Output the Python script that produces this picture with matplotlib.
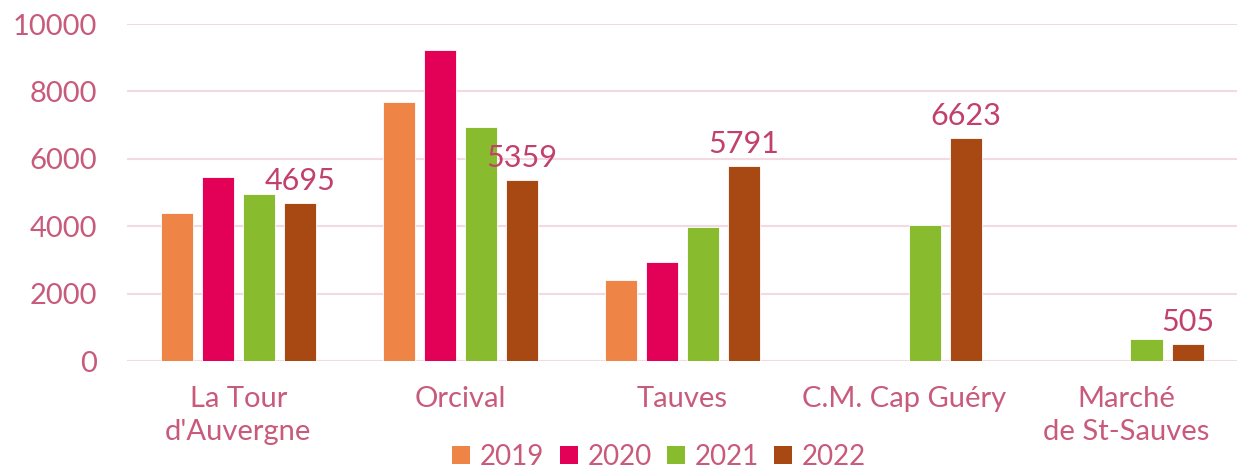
import matplotlib
matplotlib.use("Agg")
import matplotlib.pyplot as plt
import numpy as np
from matplotlib.patches import Patch

sites = ["La Tour\nd'Auvergne", "Orcival", "Tauves", "C.M. Cap Guéry", "Marché\nde St-Sauves"]
years = ["2019", "2020", "2021", "2022"]
v2019 = [4400, 7680, 2400, np.nan, np.nan]
v2020 = [5460, 9230, 2940, np.nan, np.nan]
v2021 = [4950, 6940, 3980, 4040, 650]
v2022 = [4695, 5359, 5791, 6623, 505]

colors = ["#EE8547", "#E30057", "#88BC2E", "#A84812"]
TEXT = "#C85A7C"
LABEL = "#C2416C"
GRID = "#F3D9E2"

plt.rcParams["font.family"] = ["Lato", "DejaVu Sans"]

fig = plt.figure(figsize=(12.37, 4.72), dpi=100)
ax = fig.add_axes([0.103, 0.235, 0.897, 0.714])

x = np.arange(len(sites))
step = 0.185
width = 0.145
series = [v2019, v2020, v2021, v2022]
for i, (vals, col) in enumerate(zip(series, colors)):
    pos = x + (i - 1.5) * step
    ax.bar(pos, vals, width=width, color=col, edgecolor="white", linewidth=0.6, zorder=3)

for xi, val in zip(x + 1.5 * step, v2022):
    ax.annotate(f"{val}", (xi, val), xytext=(0, 6), textcoords="offset points",
                ha="center", va="bottom", fontsize=22, color=LABEL)

ax.set_xlim(-0.5, len(sites) - 0.5)
ax.set_ylim(0, 10000)
ax.set_yticks(range(0, 10001, 2000))
ax.yaxis.grid(True, color=GRID, linewidth=1.5, zorder=0)
ax.set_axisbelow(True)
for s in ax.spines.values():
    s.set_visible(False)
ax.tick_params(axis="both", length=0, colors=TEXT, labelsize=21)
ax.tick_params(axis="y", pad=22)
ax.tick_params(axis="x", pad=18)
ax.set_xticks(x)
ax.set_xticklabels(sites, linespacing=1.35)

handles = [Patch(facecolor=c, label=y) for c, y in zip(colors, years)]
leg = fig.legend(handles=handles, loc="lower center", ncol=4, frameon=False,
                 bbox_to_anchor=(0.533, -0.048), fontsize=20, handlelength=0.65,
                 handleheight=0.65, handletextpad=0.35, columnspacing=0.55)
for t in leg.get_texts():
    t.set_color(TEXT)

fig.savefig("out.png", dpi=100, facecolor="white")
